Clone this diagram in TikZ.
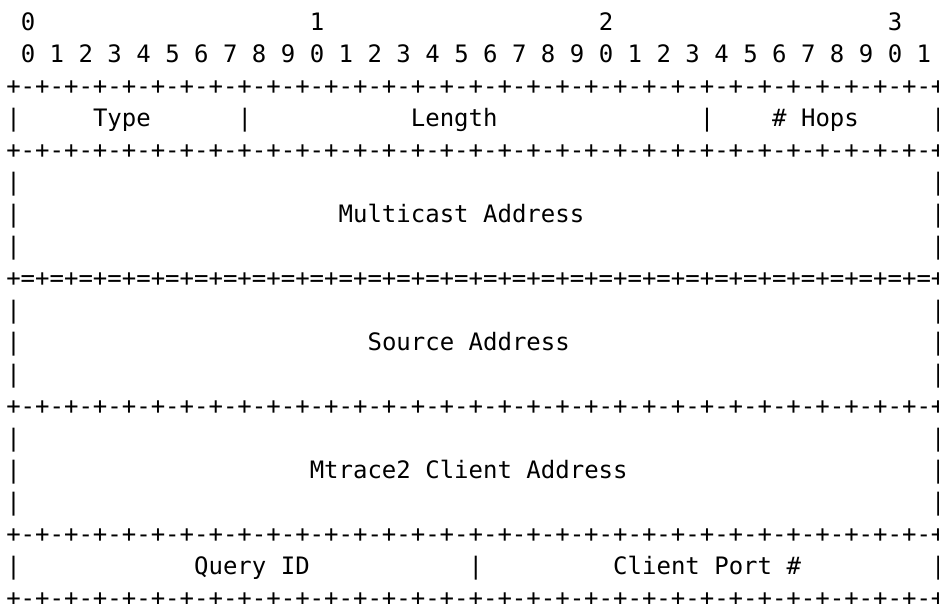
\documentclass[tikz,border=0pt]{standalone}
\usepackage{fontspec}
\setmonofont{DejaVu Sans Mono}
\newcommand\asciifont{\ttfamily\fontsize{24}{32}\selectfont}
\newcommand\cellat[4]{\node[ascii] (#1) at ({6.3+14.45*#2},{-30.7-32*#3}) {#4};}
\tikzset{ascii/.style={inner sep=0pt, outer sep=0pt, anchor=base west, font=\asciifont, text=black}}
\begin{document}
\begin{tikzpicture}[x=1pt,y=1pt]
\useasboundingbox (0,0) rectangle (939,-604);
% header numbers
\cellat{h0}{1}{0}{0}
\cellat{h1}{21}{0}{1}
\cellat{h2}{41}{0}{2}
\cellat{h3}{61}{0}{3}
\foreach \i in {0,...,31}{
  \pgfmathtruncatemacro\dg{mod(\i,10)}
  \pgfmathtruncatemacro\cl{2*\i+1}
  \cellat{d\i}{\cl}{1}{\dg}
}
% separator rows
\foreach \r in {2,4,12,16,18}{
  \cellat{sep\r}{0}{\r}{+\foreach \k in {1,...,32}{-+}}
}
\cellat{sep8}{0}{8}{+\foreach \k in {1,...,32}{=+}}
% side bars
\foreach \r in {3,5,6,7,9,10,11,13,14,15,17}{
  \cellat{lb\r}{0}{\r}{|}
  \cellat{rb\r}{64}{\r}{|}
}
\cellat{b316}{16}{3}{|}
\cellat{b348}{48}{3}{|}
\cellat{b1732}{32}{17}{|}
% labels
\cellat{type}{6}{3}{Type}
\cellat{length}{28}{3}{Length}
\cellat{hops}{53}{3}{\# Hops}
\cellat{mcast}{23}{6}{Multicast Address}
\cellat{src}{25}{10}{Source Address}
\cellat{client}{21}{14}{Mtrace2 Client Address}
\cellat{qid}{13}{17}{Query ID}
\cellat{port}{42}{17}{Client Port \#}
\end{tikzpicture}
\end{document}
